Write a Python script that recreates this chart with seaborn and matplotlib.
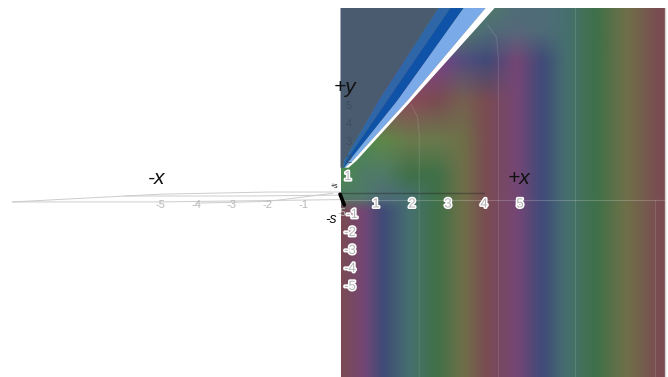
import numpy as np
import pandas as pd
import seaborn as sns
import matplotlib
matplotlib.use("Agg")
import matplotlib.pyplot as plt
import matplotlib.patheffects as pe
from matplotlib.colors import to_rgb

sns.set_theme(style="white")
plt.rcParams["font.family"] = ["Liberation Sans", "DejaVu Sans"]

# surface colours
B = "#7a4b52"; P = "#754675"; U = "#3f4a78"; T = "#46706f"; G = "#3f7048"; O = "#6f7048"
D = "#4a8a4a"; W = "#4f7a68"; R = "#8a4a58"; M = "#7a4288"; L = "#5a5a7c"; S = "#4f6c78"; A = "#6a7a4c"
E = "#766050"; F = "#5f8848"; H = "#56687a"; V = "#544c80"

surface_x = [0.03, 0.64, 1.19, 1.94, 2.69, 3.42, 4.08, 4.92, 5.64, 6.31, 7.14, 7.97, 8.89, 9.03]
surface_y = [-10.06, -0.78, -0.05, 1.17, 3.11, 5.33, 7.56, 9.22, 10.44]
surface_rows = [
    [B, P, U, T, G, O, B, P, U, T, G, O, B, B],
    [B, P, U, T, G, O, B, P, U, T, G, O, B, B],
    [W, W, S, T, G, O, B, P, U, T, G, O, B, B],
    [D, W, W, G, G, O, B, P, U, T, G, O, B, B],
    [D, D, F, A, A, O, B, P, U, T, G, O, B, B],
    [R, R, R, R, B, E, B, P, U, T, G, O, B, B],
    [M, M, M, M, M, V, U, P, U, T, G, O, B, B],
    [D, D, D, D, W, W, S, H, S, T, G, O, B, B],
    [D, D, D, D, D, D, W, S, S, T, G, O, B, B],
]

# wedge above the diagonal
wedge_y = [1.6, 2.0, 5.33, 10.47]
slate_left = [0.0, 0.0, 0.0, 0.0]
slate_right = [0.08, 0.1, 1.06, 2.72]
deep_right = [0.08, 0.16, 1.3, 3.05]
mid_right = [0.1, 0.25, 1.58, 3.42]
light_right = [0.13, 0.35, 1.86, 4.03]
white_right = [0.22, 0.45, 1.97, 4.28]

# faint curves on the surface
curve_a_x = [1.97, 2.15, 2.2, 2.2]; curve_a_y = [5.1, 4.4, 3.4, -10.06]
curve_b_x = [4.1, 4.35, 4.4, 4.4]; curve_b_y = [9.5, 8.8, 7.6, -10.06]
curve_c_x = [6.53, 6.53]; curve_c_y = [10.44, -10.06]
curve_d_x = [8.75, 8.75]; curve_d_y = [-0.2, -10.06]
axis_line_x = [0.0, 9.03]; axis_line_y = [-0.22, -0.22]
dark_line_x = [0.0, 4.0]; dark_line_y = [0.15, 0.15]
edge_x = [9.04, 9.04]; edge_y = [10.44, -10.06]

# grey sheet on the negative side
sheet_a_x = [-9.1, -5.0, -2.0, 0.0]; sheet_a_y = [-0.33, 0.1, 0.22, 0.22]
sheet_b_x = [-9.1, -5.0, 0.0]; sheet_b_y = [-0.33, -0.33, -0.2]
sheet_c_x = [-4.0, -2.0, -0.2]; sheet_c_y = [-0.4, -0.3, 0.15]
sheet_d_x = [-6.0, -2.5, 0.0]; sheet_d_y = [0.0, 0.0, 0.05]
spike_x = [0.0, 0.12]; spike_y = [0.1, -0.5]

x_ticks_pos = [1, 2, 3, 4, 5]
x_ticks_neg = [-5, -4, -3, -2, -1]
y_ticks_neg = [-2, -3, -4, -5]
y_ticks_pos = [2, 3, 4, 5]

fig = plt.figure(figsize=(6.68, 3.77), dpi=100)
ax = fig.add_axes([0, 0, 1, 1])

# smooth raster of the surface colours
rgb = np.array([[to_rgb(c) for c in row] for row in surface_rows])
gx = np.linspace(surface_x[0], surface_x[-1], 325)
gy = np.linspace(surface_y[0], surface_y[-1], 369)
by_y = np.stack([[np.interp(gy, surface_y, rgb[:, j, k]) for j in range(len(surface_x))]
                 for k in range(3)], axis=-1)
img = np.stack([[np.interp(gx, surface_x, by_y[:, i, k]) for i in range(len(gy))]
                for k in range(3)], axis=-1)
kernel = np.ones(9) / 9
for k in range(3):
    for axis in (0, 1):
        pad = np.take(img[:, :, k], [0], axis=axis)
        end = np.take(img[:, :, k], [-1], axis=axis)
        stacked = np.concatenate([pad] * 4 + [img[:, :, k]] + [end] * 4, axis=axis)
        img[:, :, k] = np.apply_along_axis(lambda a: np.convolve(a, kernel, mode="valid"),
                                           axis, stacked)
ax.imshow(img, origin="lower", aspect="auto", zorder=1, interpolation="bilinear",
          extent=[surface_x[0], surface_x[-1], surface_y[0], surface_y[-1]])

ax.fill_betweenx(wedge_y, slate_left, slate_right, color="#4a5b70", lw=0, zorder=2)
ax.fill_betweenx(wedge_y, slate_right, deep_right, color="#2f66a8", lw=0, zorder=2)
ax.fill_betweenx(wedge_y, deep_right, mid_right, color="#0f53a8", lw=0, zorder=2)
ax.fill_betweenx(wedge_y, mid_right, light_right, color="#7baae8", lw=0, zorder=2)
ax.fill_betweenx(wedge_y, light_right, white_right, color="#ffffff", lw=0, zorder=2)


def draw(xs, ys, color, lw, alpha=1.0, z=3):
    df = pd.DataFrame({"x": xs, "y": ys})
    sns.lineplot(data=df, x="x", y="y", ax=ax, sort=False, estimator=None,
                 color=color, lw=lw, alpha=alpha, zorder=z)


for cx, cy in [(curve_a_x, curve_a_y), (curve_b_x, curve_b_y),
               (curve_c_x, curve_c_y), (curve_d_x, curve_d_y)]:
    draw(cx, cy, "#ffffff", 0.7, 0.13)
draw(axis_line_x, axis_line_y, "#ffffff", 0.8, 0.2)
draw(dark_line_x, dark_line_y, "#222222", 1.0, 0.4)
draw(edge_x, edge_y, "#c8c8c8", 1.0, 0.8)
for sx, sy in [(sheet_a_x, sheet_a_y), (sheet_b_x, sheet_b_y),
               (sheet_c_x, sheet_c_y), (sheet_d_x, sheet_d_y)]:
    draw(sx, sy, "#cccccc", 0.7)
draw(spike_x, spike_y, "#000000", 2.6, z=4)

halo = [pe.withStroke(linewidth=2.2, foreground="#ffffff")]
for v in x_ticks_pos:
    ax.text(v, -0.47, str(v), ha="center", va="center", fontsize=9.5,
            color="#b4b4b4", path_effects=halo, zorder=5)
for v in y_ticks_neg:
    ax.text(0.28, v - 0.05, str(v), ha="center", va="center", fontsize=9.5,
            color="#b4b4b4", path_effects=halo, zorder=5)
ax.text(0.34, -1.05, "-1", ha="center", va="center", fontsize=9.5,
        color="#b4b4b4", path_effects=halo, zorder=5)
ax.text(0.22, 1.05, "1", ha="center", va="center", fontsize=9.5,
        color="#b4b4b4", path_effects=halo, zorder=5)
for v in x_ticks_neg:
    ax.text(v, -0.5, str(v), ha="center", va="center", fontsize=8, color="#b8b8b8", zorder=5)
for v in y_ticks_pos:
    ax.text(0.24, v, str(v), ha="center", va="center", fontsize=8,
            color="#3f4c5f", zorder=5)
ax.text(0.06, -0.95, "-5", ha="center", va="center", fontsize=7, color="#c0c0c0", zorder=5)

ax.text(0.14, 6.05, "+y", ha="center", va="center", fontsize=15, style="italic", color="#111111", zorder=6)
ax.text(-5.1, 1.0, "-x", ha="center", va="center", fontsize=15, style="italic", color="#111111", zorder=6)
ax.text(4.98, 1.0, "+x", ha="center", va="center", fontsize=15, style="italic", color="#111111", zorder=6)
ax.text(-0.25, -1.3, "-s", ha="center", va="center", fontsize=10, style="italic", color="#111111", zorder=6)
ax.text(-0.15, 0.5, "+s", ha="center", va="center", fontsize=5, color="#111111", zorder=6)

ax.set_xlim(-340 / 36, 328 / 36)
ax.set_ylim(-181 / 18, 196 / 18)
ax.set_xlabel("")
ax.set_ylabel("")
ax.set_xticks([])
ax.set_yticks([])
sns.despine(ax=ax, left=True, bottom=True)
fig.savefig("out.png", dpi=100)
